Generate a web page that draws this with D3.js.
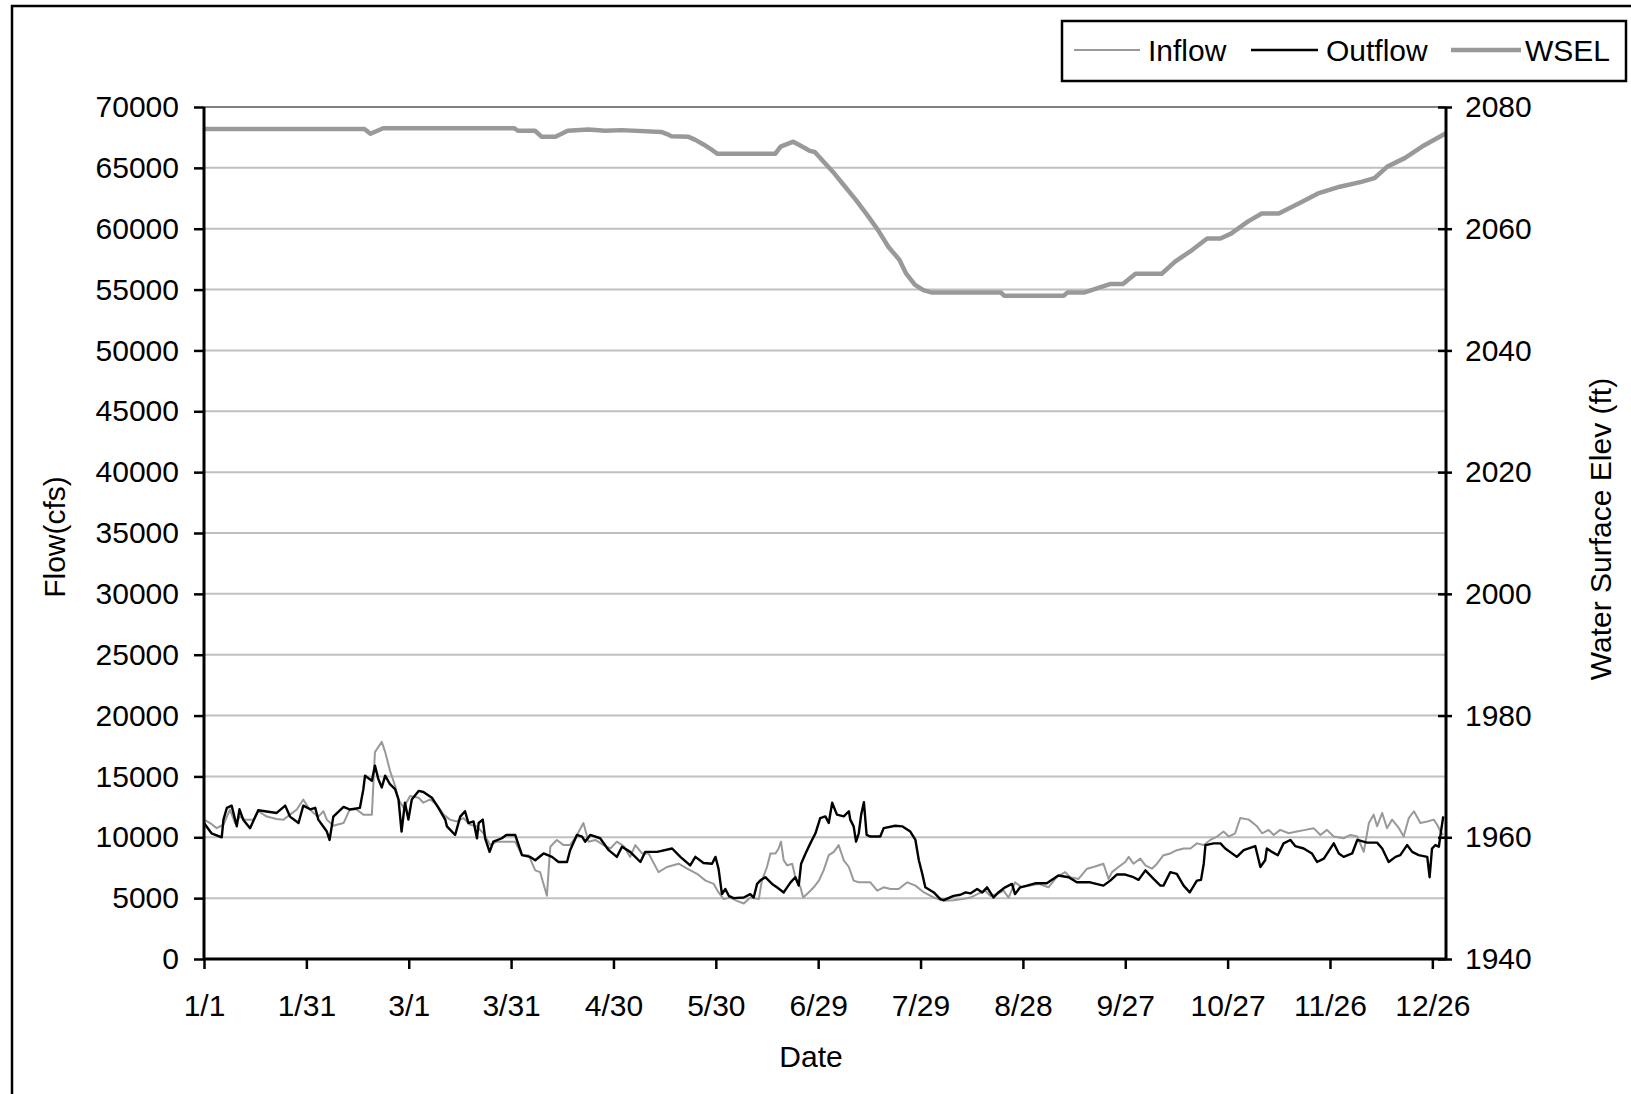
<!DOCTYPE html>
<html><head><meta charset="utf-8">
<script src="https://cdn.jsdelivr.net/npm/d3@7/dist/d3.min.js"></script>
<style>
html,body{margin:0;padding:0;background:#fff;overflow:hidden}
text{font-family:"Liberation Sans",Arial,sans-serif;fill:#000}
</style></head>
<body><svg id="c" width="1631" height="1094"></svg>
<script>
// ---- data: [day-of-year index, value] ----
const xTickDays = [0,30,60,90,120,150,180,210,240,270,300,330,360];
const xTickLabels = ["1/1","1/31","3/1","3/31","4/30","5/30","6/29","7/29","8/28","9/27","10/27","11/26","12/26"];
const flowTicks = [0,5000,10000,15000,20000,25000,30000,35000,40000,45000,50000,55000,60000,65000,70000];
const elevTicks = [1940,1960,1980,2000,2020,2040,2060,2080];
const seriesNames = ["Inflow","Outflow","WSEL"];

const inflow = [[0,11450],[1.8,11170],[3.7,10750],[5.7,11030],[7.6,12280],[9.1,11170],[10.6,11700],[12,11450],[14.5,11450],[15.9,12140],[18.4,11700],[21.3,11500],[23.3,11450],[25.2,11860],[27.2,12280],[29.1,13110],[30.6,12420],[32.1,12000],[33.5,11700],[35,12140],[36,11450],[37.9,10950],[40.9,11170],[42.8,12330],[44.7,12280],[46.7,11860],[49.2,11860],[50.1,17000],[52.1,17840],[53.1,17000],[54.5,15480],[56,14230],[57,13110],[58.5,12420],[60.4,13390],[62.9,13250],[64.3,12840],[66.3,13110],[68.2,12700],[70.2,11860],[72.1,11450],[74.1,11300],[76,11580],[78,11030],[79.9,10900],[81.9,10330],[83.9,9360],[85.8,9640],[88.8,9640],[91.2,9640],[93.2,8530],[95.1,8530],[97.1,7280],[98.5,7140],[100.5,5190],[101,7280],[101.5,9220],[103.4,9780],[105.4,9360],[107.3,9360],[109.3,10190],[111.2,11170],[112.7,9640],[114.7,9780],[117.1,9360],[119.1,9080],[121,9640],[123,9280],[124.9,8390],[126.4,9360],[128.4,8670],[130.3,8670],[133.2,7140],[135.7,7560],[139.1,7830],[141.6,7420],[144.5,7000],[147,6440],[149.4,6170],[150.8,5470],[152.3,4920],[154.3,5050],[156.2,4780],[158.2,4560],[160.1,5050],[162.6,4920],[163.5,6440],[165,7560],[166,8670],[167.5,8670],[168.4,9080],[169.1,9640],[169.9,8110],[170.9,7690],[172.4,7830],[173.3,6720],[174.8,5890],[175.6,5050],[177.2,5470],[178.7,5890],[180.2,6440],[181.6,7280],[183.1,8530],[184.6,8800],[186,9360],[187.5,8110],[189,7560],[190.4,6440],[191.9,6300],[195.3,6300],[197.3,5610],[199.2,5890],[201.2,5750],[203.6,5750],[206.1,6300],[208.5,6030],[211,5470],[213.9,5050],[216.8,4780],[219.7,4830],[222.2,4920],[224.6,5050],[227.1,5390],[229,5610],[230.4,5190],[232.4,5330],[234.3,5610],[235.8,5050],[237.7,6300],[239.7,5890],[242.1,6030],[244.6,6170],[247.5,5890],[249.9,6720],[252.4,7140],[253.9,6720],[256.3,6580],[258.8,7420],[260.7,7560],[263.6,7830],[265.1,6580],[266.1,7140],[268,7560],[270,7970],[271,8390],[272.4,7830],[274.4,8250],[275.9,7690],[277.8,7420],[279.3,7830],[281.2,8530],[283.2,8670],[285.1,8940],[287.1,9080],[289.1,9080],[291,9500],[293,9360],[294.9,9780],[296.9,10060],[298.8,10470],[300.3,10060],[302.2,10330],[303.7,11580],[306.2,11450],[308.6,10900],[310.1,10330],[312,10610],[313.5,10190],[315.4,10610],[317.9,10330],[320.3,10470],[322.8,10610],[325.2,10750],[327.2,10190],[329.1,10610],[331.1,10060],[334,9920],[336,10190],[338,10060],[339.9,8800],[341.4,11170],[342.8,11860],[343.8,10900],[345.3,12000],[346.7,10750],[348.2,11450],[350.2,10750],[351.6,10060],[353.1,11580],[354.6,12140],[356.5,11170],[358.5,11300],[360.4,11450],[361.4,11030],[362.4,10470],[363.2,10190]];

const outflow = [[0,11170],[2.2,10330],[5.2,10000],[5.7,11450],[6.7,12420],[8.1,12600],[9.6,10900],[10.4,12300],[11.5,11450],[13.5,10750],[15.9,12220],[21.3,12000],[23.8,12600],[25.2,11700],[27.7,11170],[29.1,12600],[31.1,12300],[32.6,12420],[33.5,11450],[36,10470],[36.8,9780],[37.9,11700],[40.9,12500],[42.8,12280],[45.7,12420],[46.7,13950],[47.2,15060],[49.2,14640],[50.1,15890],[51.1,14780],[52.1,14090],[53.1,15060],[54.5,14360],[56,13950],[57,13110],[57.9,10470],[58.9,12840],[59.9,11450],[60.9,13110],[62.9,13810],[64.3,13720],[66.8,13250],[68.7,12420],[70.7,11450],[71.2,10900],[73.6,10190],[75.1,11700],[76.5,12140],[77.5,11170],[79,11300],[80,9920],[80.5,11170],[81.7,11450],[82.4,9920],[83.7,8800],[84.8,9640],[87.3,9920],[88.6,10190],[91.2,10190],[93.2,8530],[95.6,8390],[97.1,8110],[99.5,8670],[102,8390],[103.9,7970],[106.4,7970],[107.3,8940],[109.3,10190],[110.8,10060],[111.7,9640],[113.2,10190],[116.1,9920],[118.6,8940],[121,8390],[122.5,9220],[124.9,8800],[127.9,7970],[129.3,8800],[132.8,8800],[137.2,9080],[139.6,8390],[142.5,7690],[144,8390],[146.4,7890],[148.9,7830],[149.9,8390],[150.8,7420],[151.8,5330],[152.8,5750],[153.8,5190],[155.2,5000],[158.2,5050],[160.1,5330],[161.1,5050],[162.1,6170],[163,6440],[164.5,6720],[166.5,6170],[167.9,5890],[169.9,5470],[171.9,6300],[173.3,6720],[174.3,6030],[175,7830],[176.3,8670],[177.7,9500],[179.2,10330],[180.6,11580],[182.1,11720],[183.1,11170],[184.1,12840],[185.5,11860],[187.5,11720],[189,12140],[189.4,11450],[190.4,10900],[191.1,9640],[191.9,10330],[192.6,11860],[193.4,12890],[194.2,10190],[195.3,10060],[198.2,10060],[199.2,10750],[202.6,10950],[204.6,10900],[207,10470],[208.5,9780],[209.5,8110],[210.5,7000],[211.4,5890],[213.9,5470],[215.8,4920],[216.8,4830],[219.7,5190],[221.7,5280],[223.2,5470],[224.6,5390],[226.6,5750],[228.1,5470],[229.5,5890],[231.4,5050],[232.8,5470],[234.8,5890],[236.8,6170],[237.7,5330],[239.2,5890],[241.2,6030],[243.6,6220],[247,6220],[250.4,6860],[253.4,6720],[255.8,6300],[259.7,6300],[263.6,6030],[265.6,6440],[267.5,6940],[270,6940],[272.4,6720],[273.9,6500],[275.9,7280],[278.3,6580],[280.3,6030],[281.2,6030],[283.2,7140],[285.1,7000],[287.1,6030],[288.9,5470],[291,6440],[292.2,6500],[293,7830],[293.5,9360],[295.9,9500],[297.9,9500],[299.3,9080],[302.7,8390],[304.7,8940],[308.1,9280],[309.6,7560],[311,8110],[311.5,9080],[313,8800],[314.7,8530],[316.4,9500],[318.4,9780],[319.8,9280],[322.3,9080],[324.7,8670],[326.2,7970],[328.2,8250],[331.1,9500],[332.6,8670],[334,8390],[336.5,8670],[338,9780],[340.9,9560],[343.8,9560],[345.3,9080],[347.2,7970],[349.2,8390],[350.6,8530],[352.6,9360],[354.1,8800],[356,8530],[358.5,8390],[359.2,6720],[359.9,9080],[360.9,9360],[361.9,9220],[362.6,10610],[363.2,11720]];

const wsel = [[0,2076.4],[47,2076.4],[48.8,2075.6],[52.5,2076.5],[91,2076.5],[92,2076.1],[97,2076.1],[99,2075.1],[103,2075.1],[106.6,2076.1],[112.7,2076.3],[117.6,2076.1],[122.4,2076.2],[134,2075.9],[135.5,2075.6],[137,2075.2],[142,2075.1],[144,2074.6],[146.5,2073.8],[149,2072.9],[150.5,2072.3],[167.4,2072.3],[169,2073.5],[172.7,2074.3],[175,2073.6],[177.5,2072.8],[179,2072.6],[181.6,2071.0],[184.7,2069.1],[187.9,2066.9],[191.1,2064.7],[194.3,2062.3],[197.5,2059.8],[200.6,2057.0],[203.8,2054.9],[205.7,2052.7],[208.3,2050.8],[210.8,2049.9],[213.4,2049.5],[233.6,2049.5],[234.5,2049.0],[252,2049.0],[253,2049.5],[257.9,2049.5],[261.7,2050.2],[265.5,2050.9],[269.3,2050.9],[273,2052.6],[280.7,2052.6],[284.6,2054.6],[289.6,2056.5],[294,2058.4],[297.9,2058.4],[301,2059.2],[306,2061.2],[310,2062.5],[315,2062.5],[321.4,2064.3],[326.5,2065.8],[332.9,2066.9],[339.2,2067.7],[343,2068.3],[346.8,2070.2],[351.9,2071.6],[357,2073.5],[364,2075.7]];

// ---- drawing ----
const svg = d3.select("#c");
const L = 204, R = 1446, T = 107, B = 959;
const x = d3.scaleLinear().domain([0,364]).range([L,R]);
const yF = d3.scaleLinear().domain([0,70000]).range([B,T]);
const yE = d3.scaleLinear().domain([1940,2080]).range([B,T]);

// outer frame
svg.append("rect").attr("x",12).attr("y",6).attr("width",1700).attr("height",1200)
  .attr("fill","none").attr("stroke","#000").attr("stroke-width",2.5);

// gridlines
svg.append("g").selectAll("line").data(flowTicks.filter(v=>v>0 && v<70000)).join("line")
  .attr("x1",L).attr("x2",R).attr("y1",d=>yF(d)).attr("y2",d=>yF(d))
  .attr("stroke","#c0c0c0").attr("stroke-width",2);
svg.append("line").attr("x1",L).attr("x2",R).attr("y1",yF(70000)).attr("y2",yF(70000))
  .attr("stroke","#808080").attr("stroke-width",2);

// series
const lineF = d3.line().x(d=>x(d[0])).y(d=>yF(d[1]));
const lineE = d3.line().x(d=>x(d[0])).y(d=>yE(d[1]));
svg.append("path").datum(inflow).attr("d",lineF).attr("fill","none")
  .attr("stroke","#999999").attr("stroke-width",2).attr("stroke-linejoin","round");
svg.append("path").datum(outflow).attr("d",lineF).attr("fill","none")
  .attr("stroke","#000").attr("stroke-width",2.4).attr("stroke-linejoin","round");
svg.append("path").datum(wsel).attr("d",lineE).attr("fill","none")
  .attr("stroke","#989a98").attr("stroke-width",4.5).attr("stroke-linejoin","round");

// axes
const axL = svg.append("g").attr("transform",`translate(${L},0)`)
  .call(d3.axisLeft(yF).tickValues(flowTicks).tickSize(10).tickPadding(15).tickFormat(d3.format("d")));
const axR = svg.append("g").attr("transform",`translate(${R},0)`)
  .call(d3.axisRight(yE).tickValues(elevTicks).tickSize(6).tickPadding(13).tickFormat(d3.format("d")));
axR.selectAll(".tick line").attr("x1",-8);
const axB = svg.append("g").attr("transform",`translate(0,${B})`)
  .call(d3.axisBottom(x).tickValues(xTickDays).tickSize(10).tickPadding(26).tickFormat((d,i)=>xTickLabels[i]));
[axL,axR,axB].forEach(a=>{
  a.select(".domain").attr("stroke","#000").attr("stroke-width",3);
  a.selectAll(".tick line").attr("stroke","#000").attr("stroke-width",2.5);
  a.selectAll("text").attr("font-size",30).attr("font-family","Liberation Sans, Arial, sans-serif").attr("fill","#000");
});
axL.select(".domain").attr("d",`M0,${B}V${T}`);
axR.select(".domain").attr("d",`M0,${B}V${T}`);
axB.select(".domain").attr("d",`M${L},0H${R}`);

// axis titles
svg.append("text").attr("x",811).attr("y",1056).attr("text-anchor","middle")
  .attr("dominant-baseline","central").attr("font-size",30).text("Date");
svg.append("text").attr("transform","translate(54,537) rotate(-90)").attr("text-anchor","middle")
  .attr("dominant-baseline","central").attr("font-size",30).text("Flow(cfs)");
svg.append("text").attr("transform","translate(1600,529) rotate(-90)").attr("text-anchor","middle")
  .attr("dominant-baseline","central").attr("font-size",30).text("Water Surface Elev (ft)");

// legend
const lg = svg.append("g");
lg.append("rect").attr("x",1062).attr("y",21).attr("width",564).attr("height",60)
  .attr("fill","#fff").attr("stroke","#000").attr("stroke-width",2.5);
const legItems = [
  {name:seriesNames[0], x1:1074, x2:1140, tx:1148, color:"#999999", w:2},
  {name:seriesNames[1], x1:1251, x2:1318, tx:1326, color:"#000", w:2.4},
  {name:seriesNames[2], x1:1451, x2:1521, tx:1525, color:"#989a98", w:4.5}
];
legItems.forEach(it=>{
  lg.append("line").attr("x1",it.x1).attr("x2",it.x2).attr("y1",50).attr("y2",50)
    .attr("stroke",it.color).attr("stroke-width",it.w);
  lg.append("text").attr("x",it.tx).attr("y",50).attr("dominant-baseline","central")
    .attr("font-size",30).text(it.name);
});
</script></body></html>
